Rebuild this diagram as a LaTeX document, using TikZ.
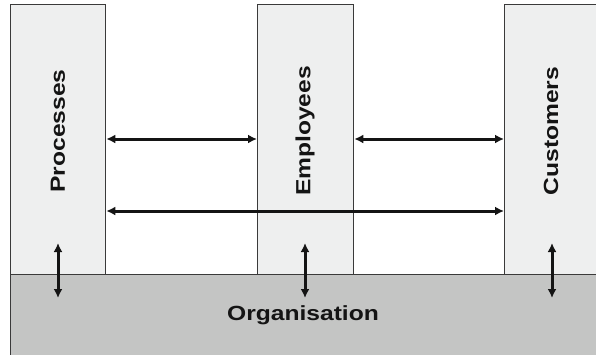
\documentclass[tikz,border=0pt]{standalone}
\usepackage{fontspec}
\setmainfont{Liberation Sans}
\usetikzlibrary{arrows.meta}
\definecolor{boxfill}{HTML}{EEEFEF}
\definecolor{orgfill}{HTML}{C4C5C4}
\definecolor{edge}{HTML}{3A3A3A}
\definecolor{ink}{HTML}{141414}
\tikzset{
  pillar/.style={draw=edge, line width=1.3pt, fill=boxfill, anchor=north west, inner sep=0pt, minimum height=270pt},
  base/.style={draw=edge, line width=1.3pt, fill=orgfill, anchor=north west, inner sep=0pt, minimum width=590pt, minimum height=81pt},
  lbl/.style={font=\fontsize{20.5}{24}\selectfont\bfseries, text=ink, inner sep=0pt},
  link/.style={draw=ink, line width=3pt, {Latex[length=9pt,width=9pt]}-{Latex[length=9pt,width=9pt]}}
}
\begin{document}
\begin{tikzpicture}[x=1pt,y=-1pt]
\useasboundingbox (0,0) rectangle (596,354);
\clip (0,0) rectangle (596,354);
\node[base] (org) at (10,274) {};
\node[pillar, minimum width=95pt] (proc) at (10,4) {};
\node[pillar, minimum width=96pt] (emp) at (257,4) {};
\node[pillar, minimum width=100pt] (cust) at (504,4) {};
\node[lbl, rotate=90] (tproc) at (58,131) {\scalebox{1.2}[1]{Processes}};
\node[lbl, rotate=90] (temp) at (305,131) {\scalebox{1.2}[1]{Employees}};
\node[lbl, rotate=90] (tcust) at (551,131) {\scalebox{1.2}[1]{Customers}};
\node[lbl] (torg) at (303,315) {\scalebox{1.2}[1]{Organisation}};
\coordinate (ya) at (0,139);
\coordinate (yb) at (0,211);
\draw[link] (proc.east |- ya) -- (emp.west |- ya);
\draw[link] (emp.east |- ya) -- (cust.west |- ya);
\draw[link] (proc.east |- yb) -- (cust.west |- yb);
\coordinate (v1a) at (58,243); \coordinate (v1b) at (58,298);
\coordinate (v2a) at (305,243); \coordinate (v2b) at (305,298);
\coordinate (v3a) at (552,243); \coordinate (v3b) at (552,298);
\draw[link] (v1a) -- (v1b);
\draw[link] (v2a) -- (v2b);
\draw[link] (v3a) -- (v3b);
\end{tikzpicture}
\end{document}
